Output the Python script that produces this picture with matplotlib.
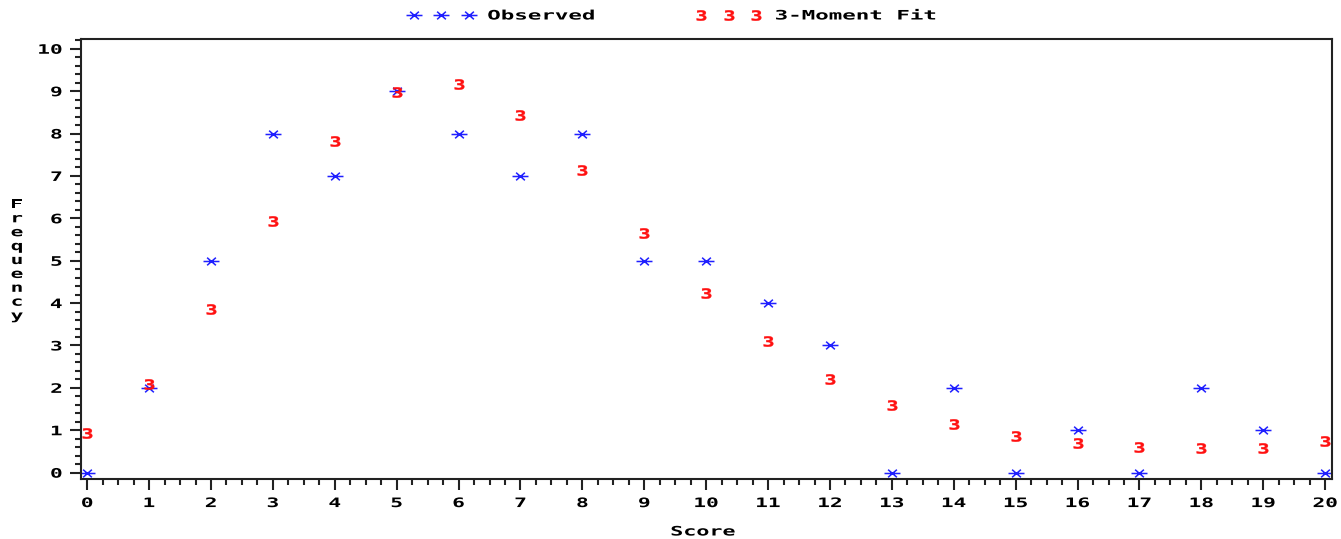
import matplotlib
matplotlib.use("Agg")
import numpy as np
import matplotlib.pyplot as plt
from matplotlib.path import Path
from matplotlib.lines import Line2D
from matplotlib.ticker import MultipleLocator
from matplotlib.textpath import TextPath
from matplotlib.font_manager import FontProperties
from matplotlib.transforms import Affine2D
import matplotlib.patheffects as pe

scores = list(range(21))
observed = [0, 2, 5, 8, 7, 9, 8, 7, 8, 5, 5, 4, 3, 0, 2, 0, 1, 0, 2, 1, 0]
fit_3moment = [0.93, 2.09, 3.86, 5.94, 7.82, 8.98, 9.17, 8.43, 7.13, 5.65, 4.24,
               3.11, 2.21, 1.60, 1.14, 0.86, 0.69, 0.60, 0.57, 0.59, 0.74]
xticks = list(range(21))
yticks = list(range(11))

BLUE = "#2020ff"
RED = "#ff1010"
FONT = "DejaVu Sans Mono"
FS = 9.4
SX = 1.62


class Stretch(pe.AbstractPathEffect):
    """Widen glyphs horizontally around an anchor (left/center/right)."""
    def __init__(self, sx, anchor="center"):
        super().__init__()
        self.sx = sx
        self.anchor = anchor

    def draw_path(self, renderer, gc, tpath, affine, rgbFace=None):
        ext = tpath.get_extents()
        if self.anchor == "left":
            cx = ext.x0
        elif self.anchor == "right":
            cx = ext.x1
        else:
            cx = 0.5 * (ext.x0 + ext.x1)
        a = Affine2D().translate(-cx, 0).scale(self.sx, 1).translate(cx, 0) + affine
        renderer.draw_path(gc, tpath, a, rgbFace)


# asterisk-like marker (wide and flat)
star = Path([(-1, 0), (1, 0), (-0.55, -0.48), (0.55, 0.48), (-0.55, 0.48), (0.55, -0.48)],
            [Path.MOVETO, Path.LINETO, Path.MOVETO, Path.LINETO, Path.MOVETO, Path.LINETO])

# wide bold "3" marker
_tp = TextPath((0, 0), "3", size=10, prop=FontProperties(family=FONT, weight="bold"))
_e = _tp.get_extents()
three = Path(Affine2D().translate(-(_e.x0 + _e.x1) / 2, -(_e.y0 + _e.y1) / 2)
             .scale(1.45, 1).transform(_tp.vertices), _tp.codes)

fig = plt.figure(figsize=(13.41, 5.39), dpi=100)
ax = fig.add_axes([81/1341, 1-479/539, (1332-81)/1341, (479-39)/539])

ax.plot(scores, observed, linestyle="none", marker=star, markersize=11.5,
        markeredgecolor=BLUE, markerfacecolor="none", markeredgewidth=1.1)
ax.plot(scores, fit_3moment, linestyle="none", marker=three, markersize=8.6,
        markerfacecolor=RED, markeredgecolor=RED, markeredgewidth=0.3)

ax.set_xlim(-0.1, 20.11)
ax.set_ylim(-0.15, 10.23)
ax.set_xticks(xticks)
ax.set_yticks(yticks)
ax.xaxis.set_minor_locator(MultipleLocator(0.25))
ax.yaxis.set_minor_locator(MultipleLocator(0.2))
ax.tick_params(which="major", direction="out", length=8, width=1.5, colors="#222222")
ax.tick_params(which="minor", direction="out", length=4.5, width=1.5, colors="#222222")
ax.tick_params(axis="x", which="major", pad=5)
ax.tick_params(axis="y", which="major", pad=5.5)
for lab in ax.get_xticklabels():
    lab.set_fontfamily(FONT); lab.set_fontweight("bold"); lab.set_fontsize(FS)
    lab.set_color("black"); lab.set_path_effects([Stretch(SX, "center")])
for lab in ax.get_yticklabels():
    lab.set_fontfamily(FONT); lab.set_fontweight("bold"); lab.set_fontsize(FS)
    lab.set_color("black"); lab.set_path_effects([Stretch(SX, "right")])
for s in ax.spines.values():
    s.set_linewidth(1.5)
    s.set_color("#222222")

fig.text(703/1341, 1-532/539, "Score", fontfamily=FONT, fontweight="bold", fontsize=FS,
         ha="center", va="center", path_effects=[Stretch(1.66, "center")])
fig.text(17/1341, 1-260.5/539, "\n".join("Frequency"), fontfamily=FONT, fontweight="bold",
         fontsize=FS, ha="center", va="center", linespacing=1.09,
         path_effects=[Stretch(SX, "center")])

h1 = Line2D([], [], linestyle="none", marker=star, markersize=11.5,
            markeredgecolor=BLUE, markerfacecolor="none", markeredgewidth=1.1)
h2 = Line2D([], [], linestyle="none", marker=three, markersize=8.6,
            markerfacecolor=RED, markeredgecolor=RED, markeredgewidth=0.3)
leg = fig.legend([h1, h2], ["Observed", "3-Moment Fit"], ncol=2, numpoints=3,
                 frameon=False, loc="center left", bbox_to_anchor=(410/1341, 1-16/539),
                 borderaxespad=0, borderpad=0,
                 handlelength=4.8, handletextpad=1.15, columnspacing=11.25,
                 prop={"family": FONT, "weight": "bold", "size": FS})
for t in leg.get_texts():
    t.set_path_effects([Stretch(1.72, "left")])

fig.savefig("out.png", dpi=100)
